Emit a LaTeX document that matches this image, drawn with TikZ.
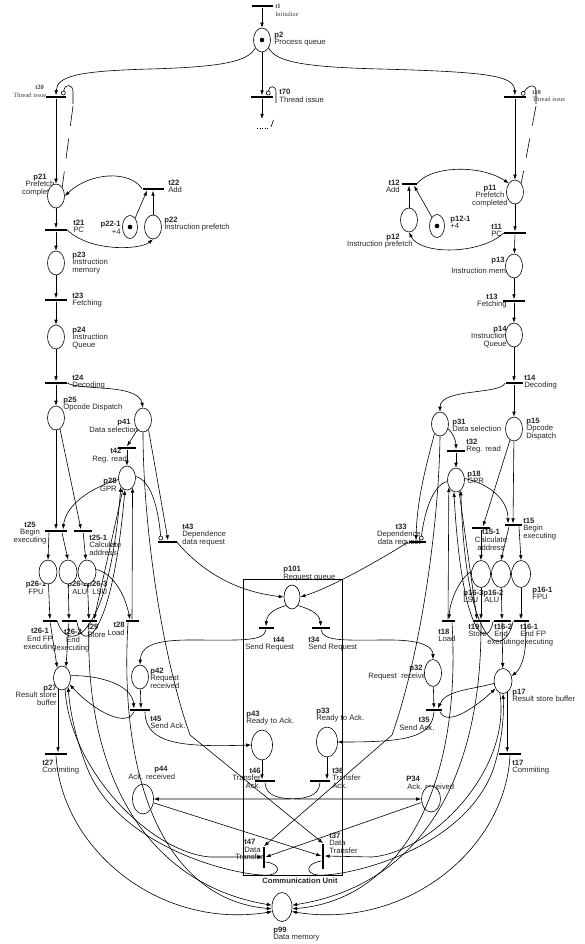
\documentclass[tikz,border=0pt]{standalone}
\usepackage{fontspec}
\setmainfont{Liberation Sans}
\newfontfamily\tms{Liberation Serif}
\usetikzlibrary{shapes.geometric,arrows.meta}
\begin{document}
\begin{tikzpicture}[x=1pt,y=-1pt,line width=0.6pt,
  pl/.style={ellipse,draw,fill=white,minimum width=17pt,minimum height=24pt,inner sep=0pt},
  tr/.style={rectangle,fill=black,draw=none,minimum width=#1,minimum height=2.8pt,inner sep=0pt},
  tr/.default=21pt,
  trv/.style={rectangle,fill=black,draw=none,minimum height=#1,minimum width=2.8pt,inner sep=0pt},
  trv/.default=22pt,
  tok/.style={circle,fill=black,minimum size=4.6pt,inner sep=0pt},
  lb/.style={inner sep=0pt,font=\fontsize{7.7}{7.8}\selectfont,text=black!85,align=left,anchor=north west},
  lbr/.style={lb,align=right,anchor=north east},
  lbc/.style={lb,align=center,anchor=north},
  ser/.style={inner sep=0pt,font=\tms\fontsize{6.5}{7.5}\selectfont,text=black!75,align=left,anchor=north west},
  arr/.style={-{Latex[length=5pt,width=3.6pt]}},
  inh/.style={-{Circle[open,length=4.6pt,width=4.6pt]}}]
\useasboundingbox (0,0) rectangle (584,944);
\node[draw,minimum width=99pt,minimum height=296pt,inner sep=0pt] (cu) at (292.5,727) {};
% ---------- labels ----------
\node[ser] at (275,4) {\textbf{t1}\\Initialize};
\node[lb] at (274,31.5) {\textbf{p2}\\Process queue};
\node[lb] at (279,89) {\textbf{t70}\\Thread issue};
\node[ser] at (35,85) {\textbf{t20}};
\node[ser] at (13,93) {Thread issue};
\node[ser] at (532,89.5) {\textbf{t10}\\Thread issue};
\node[lbc] at (40,173.5) {\textbf{p21}\\Prefetch\\completed};
\node[lbr] at (121,221) {\textbf{p22-1}\\+4};
\node[lb] at (168,179.5) {\textbf{t22}\\Add};
\node[lb] at (164,216.5) {\textbf{p22}\\Instruction prefetch};
\node[lb] at (73,219.5) {\textbf{t21}\\PC};
\node[lb] at (72,251.5) {\textbf{p23}\\Instruction\\memory};
\node[lb] at (72,292.5) {\textbf{t23}\\Fetching};
\node[lb] at (72,326.5) {\textbf{p24}\\Instruction\\Queue};
\node[lb] at (72,374.5) {\textbf{t24}\\Decoding};
\node[lb] at (63,396.5) {\textbf{p25}\\Opcode Dispatch};
\node[lbr] at (131,419) {\textbf{p41}};
\node[lb] at (89,426.5) {Data selection};
\node[lb] at (110,448) {\textbf{t42}};
\node[lb] at (92,456) {Reg. read};
\node[lbr] at (117,478) {\textbf{p28}\\GPR};
\node[lbc] at (30,521.5) {\textbf{t25}\\Begin\\executing};
\node[lb] at (89,534.5) {\textbf{t25-1}\\Calculate\\address};
\node[lbc] at (36,581) {\textbf{p26-1}\\FPU};
\node[lb] at (67,581) {\textbf{p26-2}};
\node[lb] at (87,581) {\textbf{p26-3}};
\node[lb] at (72,588.5) {ALU};
\node[lb] at (92,588.5) {LSU};
\node[lbc] at (40,628) {\textbf{t26-1}\\End FP\\executing};
\node[lbc] at (73,629) {\textbf{t26-2}\\End\\executing};
\node[lb] at (87,624) {\textbf{t29}\\Store};
\node[lbr] at (125,622) {\textbf{t28}\\Load};
\node[lb] at (182,523.5) {\textbf{t43}\\Dependence\\data request};
\node[lb] at (283,566) {\textbf{p101}\\Request queue};
\node[lb] at (273,636.5) {\textbf{t44}};
\node[lb] at (245,643.5) {Send Request};
\node[lb] at (308,636.5) {\textbf{t34}\\Send Request};
\node[lb] at (150,667.5) {\textbf{p42}\\Request\\received};
\node[lbr] at (57,684.5) {\textbf{p27}\\Result store\\buffer};
\node[lb] at (42,759.5) {\textbf{t27}\\Commiting};
\node[lb] at (150,715.5) {\textbf{t45}\\Send Ack.};
\node[lb] at (246,710.5) {\textbf{p43}\\Ready to Ack.};
\node[lb] at (316,707.5) {\textbf{p33}\\Ready to Ack.};
\node[lbr] at (261,767.5) {\textbf{t46}\\Transfer\\Ack.};
\node[lb] at (332,767.5) {\textbf{t36}\\Transfer\\Ack.};
\node[lb] at (154,765.5) {\textbf{p44}};
\node[lb] at (128,773.5) {Ack. received};
\node[lb] at (406,775.5) {\textbf{P34}};
\node[lb] at (407,783.5) {Ack. received};
\node[lb] at (244,839) {\textbf{t47}\\Data};
\node[lb] at (235,854) {Transfer};
\node[lb] at (329,832.5) {\textbf{t37}\\Data\\Transfer};
\node[lbc,font=\bfseries\fontsize{7.7}{7.8}\selectfont] at (300,877.5) {Communication Unit};
\node[lb] at (273,926.5) {\textbf{p99}\\Data memory};
\node[lbr] at (400,179.5) {\textbf{t12}\\Add};
\node[lb] at (450,215.5) {\textbf{p12-1}\\+4};
\node[lb] at (386,233.5) {\textbf{p12}};
\node[lbr] at (413,240.5) {Instruction prefetch};
\node[lbc] at (490,184.5) {\textbf{p11}\\Prefetch\\completed};
\node[lb] at (491,223.5) {\textbf{t11}\\PC};
\node[lb] at (491,256.5) {\textbf{p13}};
\node[lb] at (451,267.5) {Instruction memory};
\node[lbc] at (492,293.5) {\textbf{t13}\\Fetching};
\node[lbr] at (507,325.5) {\textbf{p14}\\Instruction\\Queue};
\node[lb] at (524,374.5) {\textbf{t14}\\Decoding};
\node[lb] at (452,418.5) {\textbf{p31}\\Data selection};
\node[lb] at (466,438.5) {\textbf{t32}\\Reg. read};
\node[lb] at (526,417.5) {\textbf{p15}\\Opcode\\Dispatch};
\node[lb] at (467,470.5) {\textbf{p18}\\GPR};
\node[lbr] at (407,524) {\textbf{t33}};
\node[lbr] at (421,530.5) {Dependence\\data request};
\node[lb] at (523,517.5) {\textbf{t15}\\Begin\\executing};
\node[lbc] at (491,529) {\textbf{t15-1}\\Calculate\\address};
\node[lb] at (463,589.5) {\textbf{p16-3}};
\node[lb] at (483,589.5) {\textbf{p16-2}};
\node[lb] at (463,596.5) {LSU};
\node[lb] at (484,596.5) {ALU};
\node[lb] at (532,586.5) {\textbf{p16-1}\\FPU};
\node[lb] at (438,628.5) {\textbf{t18}\\Load};
\node[lb] at (468,623.5) {\textbf{t19}\\Store};
\node[lb] at (494,623.5) {\textbf{t16-2}\\End};
\node[lb] at (487,639.1) {executing};
\node[lb] at (520,623.5) {\textbf{t16-1}\\End FP\\executing};
\node[lb] at (512,688.5) {\textbf{p17}\\Result store buffer};
\node[lbr] at (423,664.5) {\textbf{p32}};
\node[lb] at (368,672.5) {Request\ \ received};
\node[lbr] at (430,717) {\textbf{t35}};
\node[lb] at (399,724.5) {Send Ack.};
\node[lb] at (512,759.5) {\textbf{t17}\\Commiting};
% ---------- places ----------
\node[pl] (p2) at (262,40) {}; \node[tok] at (p2) {};
\node[pl] (p21) at (56,196) {};
\node[pl,minimum width=15pt,minimum height=23pt] (p22-1) at (130,227) {}; \node[tok] at (p22-1) {};
\node[pl] (p22) at (153,227) {};
\node[pl] (p23) at (56,263) {};
\node[pl] (p24) at (56,337) {};
\node[pl] (p25) at (56,418) {};
\node[pl] (p41) at (143,420) {};
\node[pl] (p28) at (127,478) {};
\node[pl,minimum width=18pt] (p26-1) at (48,572) {};
\node[pl,minimum width=18pt] (p26-2) at (68,572) {};
\node[pl,minimum width=18pt] (p26-3) at (87,572) {};
\node[pl] (p27) at (62,678) {};
\node[pl] (p42) at (140,677) {};
\node[pl,minimum width=16pt] (p101) at (292,597) {};
\node[pl,minimum width=21pt,minimum height=30pt] (p43) at (262,745) {};
\node[pl,minimum width=21pt,minimum height=30pt] (p33) at (327,742) {};
\node[pl,minimum width=21pt,minimum height=30pt] (p44) at (143,799) {};
\node[pl,minimum width=19pt,minimum height=26pt] (P34) at (431,799) {};
\node[pl,minimum width=20pt,minimum height=29pt] (p99) at (282,907) {};
\node[pl] (p11) at (515,192) {};
\node[pl] (p12) at (409,220) {};
\node[pl,minimum width=15pt,minimum height=23pt] (p12-1) at (437,226) {}; \node[tok] at (p12-1) {};
\node[pl] (p13) at (514,266) {};
\node[pl] (p14) at (514,335) {};
\node[pl] (p31) at (440,424) {};
\node[pl] (p15) at (514,429) {};
\node[pl] (p18) at (456,480) {};
\node[pl,minimum width=19pt,minimum height=27pt] (p16-3) at (481,574) {};
\node[pl,minimum width=19pt,minimum height=27pt] (p16-2) at (501,574) {};
\node[pl,minimum width=19pt,minimum height=27pt] (p16-1) at (521,574) {};
\node[pl,minimum height=27pt] (p32) at (433,673) {};
\node[pl,minimum width=18pt,minimum height=25pt] (p17) at (503,681) {};
% ---------- transitions ----------
\node[tr=21pt] (t1) at (262,6) {};
\node[tr=22pt] (t70) at (262,97) {};
\node[tr=20pt] (t20) at (56,97) {};
\node[tr=22pt] (t10) at (515,97) {};
\node[tr=21pt] (t22) at (153,189) {};
\node[tr=22pt] (t21) at (56,230) {};
\node[tr=22pt] (t23) at (56,300) {};
\node[tr=22pt] (t24) at (56,383) {};
\node[tr=18pt] (t42) at (127,448) {};
\node[tr=22pt] (t25) at (56,531) {};
\node[tr=18pt] (t25-1) at (83,531) {};
\node[tr=14pt] (t26-1) at (50,621) {};
\node[tr=15pt] (t26-2) at (69,621) {};
\node[tr=15pt] (t29) at (89,621) {};
\node[tr=13pt] (t28) at (132,621) {};
\node[tr=19pt] (t43) at (167,542) {};
\node[tr=20pt] (t45) at (140,710) {};
\node[tr=22pt] (t27) at (56,754) {};
\node[tr=15pt] (t44) at (266,628) {};
\node[tr=18pt] (t34) at (321,628) {};
\node[tr=20pt] (t46) at (265,781) {};
\node[tr=20pt] (t36) at (320,781) {};
\node[trv=21pt] (t47) at (264,857) {};
\node[trv=25pt] (t37) at (323,856) {};
\node[tr=16pt] (t35) at (434,710) {};
\node[tr=17pt] (t33) at (417,542) {};
\node[tr=18pt] (t32) at (456,451) {};
\node[tr=18pt] (t15-1) at (481,528) {};
\node[tr=17pt] (t15) at (513,525) {};
\node[tr=17pt] (t19) at (481,621) {};
\node[tr=17pt] (t16-2) at (502,621) {};
\node[tr=15pt] (t16-1) at (521,621) {};
\node[tr=13pt] (t18) at (448,621) {};
\node[tr=22pt] (t17) at (510,754) {};
\node[tr=15pt] (t12) at (409,184) {};
\node[tr=22pt] (t11) at (515,233) {};
\node[tr=22pt] (t13) at (514,301) {};
\node[tr=17pt] (t14) at (514,383) {};
% ---------- top ----------
\draw[arr] (t1) -- (p2);
\draw[arr] (p2) -- (t70);
\coordinate (e70) at (262,119);
\draw[arr] (t70) -- (e70);
\draw[dotted] (257,128) -- (270,128);
\draw (271,127) -- (273.5,120);
\draw[inh] (276,103) -- (276,92) .. controls (276,85) and (269,85) .. ([xshift=6pt]t70.north);
\draw[arr] (p2.230) .. controls (248,62) and (220,67) .. (150,69) .. controls (78,71) and (57,76) .. (t20.north);
\draw[arr] (p2.310) .. controls (276,62) and (304,67) .. (380,69) .. controls (492,72) and (514,76) .. (t10.north);
\draw[inh] (73,104) -- (73,92) .. controls (73,84) and (65,83) .. ([xshift=7pt]t20.north);
\draw[dash pattern=on 20pt off 13pt] (73,106) -- (p21.north east);
\draw[inh] (536,104) -- (536,91) .. controls (536,84) and (529,84) .. ([xshift=7pt]t10.north);
\draw[dash pattern=on 20pt off 13pt] (536,106) -- (p11.north east);
\draw[arr] (t20) -- (p21);
\draw[arr] (t10) -- (p11);
% ---------- left fetch ----------
\draw[arr] (p21) -- (t21);
\draw[arr] (t21) -- (p23);
\draw[arr] (p23) -- (t23);
\draw[arr] (t23) -- (p24);
\draw[arr] (p24) -- (t24);
\draw[arr] (t24) -- (p25);
\draw[arr] (t22.west) .. controls (130,170) and (90,172) .. (p21.east);
\draw[arr] (p22) -- (t22);
\draw[arr] (p22-1.60) -- ([xshift=-6pt]t22.south);
\draw[arr] (t21.east) .. controls (90,252) and (140,250) .. (p22.south);
% ---------- right fetch ----------
\draw[arr] (p11) -- (t11);
\draw[arr] (t11) -- (p13);
\draw[arr] (p13) -- (t13);
\draw[arr] (t13) -- (p14);
\draw[arr] (p14) -- (t14);
\draw[arr] (t14) -- (p15);
\draw[arr] (t12.east) .. controls (430,166) and (480,164) .. (p11.north west);
\draw[arr] (p12) -- (t12);
\draw[arr] (p12-1.120) -- ([xshift=5pt]t12.south);
\draw[arr] (t11.west) .. controls (480,255) and (420,255) .. (p12.south);
% ---------- decode ----------
\draw[arr] (t24.east) .. controls (80,391) and (138,383) .. (p41.north);
\draw[arr] (t14.west) .. controls (500,395) and (440,388) .. (p31.north);
\draw[arr] (p41.240) -- (t42.north);
\draw[arr] (t42) -- (p28);
\draw[arr] (p31.330) .. controls (452,432) and (456,440) .. (t32.north);
\draw[arr] (t32) -- (p18);
% ---------- left execution ----------
\draw[arr] (p25) -- (t25);
\draw[arr] (p25.290) -- ([xshift=-2pt]t25-1.north);
\draw[arr] (p28.190) .. controls (90,488) and (66,505) .. ([xshift=7pt]t25.north);
\draw[arr] ([xshift=-7pt]t25.south) -- (p26-1.north);
\draw[arr] ([xshift=6pt]t25.south) -- (p26-2.north);
\draw[arr] (t25-1) -- (p26-3);
\draw[arr] (p26-1) -- (t26-1);
\draw[arr] (p26-2) -- (t26-2);
\draw[arr] (p26-3) -- (t29);
\draw[arr] (p26-3.15) .. controls (110,572) and (124,590) .. ([xshift=-2pt]t28.north);
\draw[arr] (t26-1) -- (p27.115);
\draw[arr] (t26-2) -- (p27.70);
\draw[arr] (t28) -- (p28.300);
\draw[arr] (p28.250) -- ([xshift=5pt]t29.north);
\draw[arr] (t26-1.east) .. controls (66,652) and (108,648) .. (p28.235);
\draw[arr] (t26-2.east) .. controls (82,655) and (112,640) .. (p28.260);
% ---------- right execution ----------
\draw[arr] (p15) -- (t15);
\draw[arr] (p15.250) -- ([xshift=2pt]t15-1.north);
\draw[arr] (p18.10) .. controls (490,484) and (508,500) .. ([xshift=-5pt]t15.north);
\draw[arr] ([xshift=6pt]t15.south) -- (p16-1.north);
\draw[arr] ([xshift=-4pt]t15.south) -- (p16-2.north);
\draw[arr] (t15-1) -- (p16-3);
\draw[arr] (p16-3) -- (t19);
\draw[arr] (p16-2) -- (t16-2);
\draw[arr] (p16-1) -- (t16-1);
\draw[arr] (p16-3.165) .. controls (460,578) and (450,600) .. ([xshift=1pt]t18.north);
\draw[arr] (t16-2) -- (p17);
\draw[arr] ([xshift=4pt]t16-1.south) .. controls (528,650) and (522,668) .. (p17.30);
\draw[arr] (t18) -- (p18.225);
\draw[arr] (p18.285) -- ([xshift=-4pt]t19.north);
\draw[arr] (t16-2.west) .. controls (488,650) and (462,640) .. (p18.260);
\draw[arr] (t16-1.west) .. controls (505,660) and (466,655) .. (p18.295);
% ---------- dependence ----------
\draw[arr] (p41.300) -- ([xshift=1pt]t43.north);
\draw[inh] (p28.10) .. controls (150,480) and (158,505) .. ([xshift=-6pt]t43.north);
\draw[arr] (t43.east) .. controls (205,575) and (240,592) .. (p101.west);
\draw[arr] (p31.240) .. controls (425,470) and (417,500) .. ([xshift=-1pt]t33.north);
\draw[inh] (p18.190) .. controls (432,485) and (424,515) .. ([xshift=4pt]t33.north);
\draw[arr] (t33.west) .. controls (380,560) and (330,588) .. (p101.east);
% ---------- communication ----------
\draw[arr] (p101.235) .. controls (278,608) and (267,612) .. (t44.north);
\draw[arr] (p101.305) .. controls (306,608) and (319,612) .. (t34.north);
\draw[arr] (t44.south) .. controls (264,642) and (240,640) .. (190,640) .. controls (150,640) and (141,648) .. (p42.north);
\draw[arr] (t34.south) .. controls (323,642) and (345,640) .. (390,640) .. controls (425,640) and (433,648) .. (p32.north);
\draw[arr] (p42) -- ([xshift=1pt]t45.north);
\draw[arr] (p32) -- (t35);
\draw[arr] (p27.15) .. controls (100,675) and (132,685) .. ([xshift=-6pt]t45.north);
\draw[arr] ([xshift=-6pt]t45.south) .. controls (127,728) and (95,712) .. (p27.320);
\draw[arr] ([xshift=5pt]t45.south) .. controls (145,745) and (185,747) .. (p43.west);
\draw[arr] (p17.195) .. controls (470,690) and (446,690) .. ([xshift=4pt]t35.north);
\draw[arr] ([xshift=6pt]t35.south) .. controls (447,728) and (478,705) .. (p17.225);
\draw[arr] (t35.south) .. controls (432,738) and (405,742) .. (p33.east);
\draw[arr] (p43.south) -- (p43.south |- t46.north);
\draw[arr] (p33.south) -- (p33.south |- t36.north);
\draw[arr] (t46.south) .. controls (266,797) and (280,799) .. (300,799) -- (P34.west);
\draw[arr] (t36.south) .. controls (319,797) and (305,799) .. (285,799) -- (p44.east);
\draw[arr] (p27.250) -- (p27.250 |- t27.north);
\draw[arr] (p17.290) -- (p17.290 |- t17.north);
\draw[arr] (p44.340) -- (t37.west);
\draw[arr] (P34.200) -- (t47.east);
\draw[arr] (p41.south) .. controls (143,520) and (160,650) .. (190,735) -- (t37.north);
\draw[arr] (p31.south) .. controls (439,520) and (422,650) .. (392,735) -- (t47.north);
% ---------- data transfer ----------
\draw[arr] (p27.285) .. controls (70,770) and (150,852) .. (210,857) -- (t47.west);
\draw[arr] ([yshift=-5pt]t47.east) .. controls (283,864) and (281,877) .. (262,875) .. controls (225,873) and (120,845) .. (88,770) .. controls (76,740) and (70,712) .. (p27.305);
\draw[arr] (p17.255) .. controls (512,770) and (432,852) .. (372,857) -- (t37.east);
\draw[arr] ([yshift=-5pt]t37.west) .. controls (303,864) and (305,877) .. (325,875) .. controls (362,873) and (465,845) .. (493,770) .. controls (503,740) and (504,712) .. (p17.south);
% ---------- memory ----------
\draw[arr] (t27.south) .. controls (62,850) and (160,930) .. (p99.205);
\draw[arr] (t29.south) .. controls (84,780) and (150,885) .. (p99.170);
\draw[arr] ([xshift=-4pt]t28.south) .. controls (118,790) and (170,900) .. (p99.190);
\draw[arr] (t17.south) .. controls (505,850) and (405,930) .. (p99.335);
\draw[arr] (t19.south) .. controls (482,780) and (420,885) .. (p99.10);
\draw[arr] ([xshift=4pt]t18.south) .. controls (462,790) and (400,900) .. (p99.350);
\end{tikzpicture}
\end{document}
